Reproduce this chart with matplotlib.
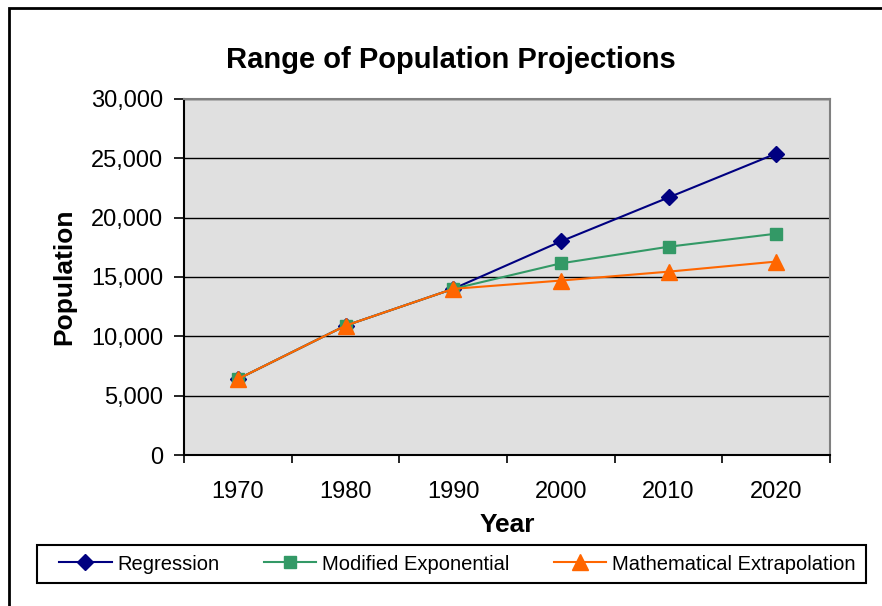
import matplotlib.pyplot as plt
from matplotlib.patches import Rectangle

plt.rcParams['font.family'] = ['Liberation Sans', 'DejaVu Sans']

years = ['1970', '1980', '1990', '2000', '2010', '2020']
regression = [6400, 10900, 14000, 18000, 21700, 25400]
modified_exp = [6400, 10900, 14000, 16150, 17550, 18650]
math_extrap = [6400, 10900, 14000, 14700, 15450, 16300]

fig = plt.figure(figsize=(8.82, 6.06), dpi=100)
ax = fig.add_axes([184 / 882, 1 - 455 / 606, (830 - 184) / 882, (455 - 99) / 606])

x = list(range(len(years)))
ax.set_facecolor('#e0e0e0')
ax.plot(x, regression, color='#000080', marker='D', markersize=8, linewidth=1.5,
        label='Regression', zorder=3)
ax.plot(x, modified_exp, color='#339966', marker='s', markersize=9, linewidth=1.5,
        markerfacecolor='#339966', markeredgecolor='#339966', label='Modified Exponential', zorder=4)
ax.plot(x, math_extrap, color='#ff6600', marker='^', markersize=11, linewidth=1.5,
        label='Mathematical Extrapolation', zorder=5)

ax.set_xlim(-0.5, len(years) - 0.5)
ax.set_ylim(0, 30000)
ax.set_yticks(range(0, 30001, 5000))
ax.set_yticklabels([f'{v:,}' for v in range(0, 30001, 5000)])
ax.yaxis.grid(True, color='black', linewidth=1)
ax.set_axisbelow(True)

ax.set_xticks([i - 0.5 for i in range(len(years) + 1)])
ax.set_xticklabels([])
ax.set_xticks(x, minor=True)
ax.set_xticklabels(years, minor=True)
ax.tick_params(axis='x', which='minor', length=0, pad=19, labelsize=17)
ax.tick_params(axis='x', which='major', length=6, width=1.2, direction='out')
ax.tick_params(axis='y', length=7, width=1.2, direction='out', labelsize=17, pad=8)

for s in ['top', 'right']:
    ax.spines[s].set_color('#808080')
    ax.spines[s].set_linewidth(1.5)
for s in ['left', 'bottom']:
    ax.spines[s].set_color('black')
    ax.spines[s].set_linewidth(1.5)

fig.text(451 / 882, 1 - 60 / 606, 'Range of Population Projections', fontsize=21,
         fontweight='bold', ha='center', va='center')
ax.set_xlabel('Year', fontsize=19, fontweight='bold', labelpad=7)
ax.set_ylabel('Population', fontsize=19, fontweight='bold', labelpad=11)

# legend box drawn separately so the entries can sit like in the original
fig.patches.append(Rectangle((37 / 882, 1 - 583 / 606), 829 / 882, 38 / 606,
                             transform=fig.transFigure, fill=False,
                             edgecolor='black', linewidth=1.5))
fig.legend(loc='center right', bbox_to_anchor=(856 / 882, 1 - 564 / 606), ncol=3,
           fontsize=14.5, frameon=False, borderpad=0, borderaxespad=0,
           handlelength=2.6, columnspacing=2.2, handletextpad=0.3)

fig.patches.append(Rectangle((9 / 882, -0.01), 1.0, 1 - 8 / 606 + 0.01,
                             transform=fig.transFigure, fill=False,
                             edgecolor='black', linewidth=2, clip_on=False))

fig.savefig('out.png', dpi=100)
